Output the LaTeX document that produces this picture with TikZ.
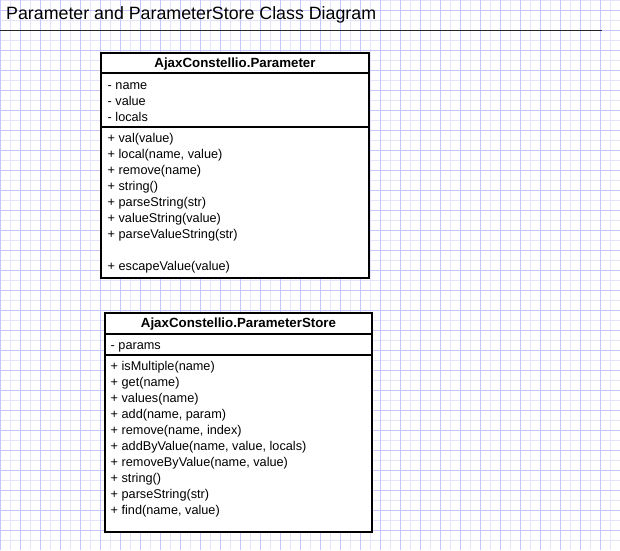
\documentclass[tikz,border=0pt]{standalone}
\usepackage{fontspec}
\setmainfont{Liberation Sans}
\usepackage{tikz}
\usetikzlibrary{positioning,calc}
\usepackage{xcolor}
\definecolor{gridmajor}{RGB}{198,198,255}
\definecolor{gridminor}{RGB}{228,228,250}
\tikzstyle{minorline}=[draw=gridminor, line width=1pt]
\tikzstyle{majorline}=[draw=gridmajor, line width=1pt]
\tikzstyle{compartment}=[draw, line width=2pt, fill=white, rectangle, anchor=north west, inner sep=0pt, outer sep=0pt]
\tikzstyle{classname}=[font=\fontsize{13.3}{16}\selectfont\bfseries, anchor=base, inner sep=0pt]
\tikzstyle{member}=[font=\fontsize{12.7}{16}\selectfont, anchor=base west, inner sep=0pt]

\begin{document}
\begin{tikzpicture}[x=1pt,y=-1pt]

\useasboundingbox (0,0) rectangle (620,550);
\fill[white] (0,0) rectangle (620,550);

% grid
\foreach \x in {10,30,...,610} \draw[minorline] (\x+0.5,0) -- (\x+0.5,550);
\foreach \y in {0,20,...,540} \draw[minorline] (0,\y+0.5) -- (620,\y+0.5);
\foreach \x in {0,20,...,600} \draw[majorline] (\x+0.5,0) -- (\x+0.5,550);
\foreach \y in {10,30,...,530} \draw[majorline] (0,\y+0.5) -- (620,\y+0.5);

% title
\node[font=\fontsize{17.8}{20}\selectfont, anchor=base west, inner sep=0pt] (title) at (6,19.5) {Parameter and ParameterStore Class Diagram};
\draw[black!85] (0,30.5) -- (602,30.5);

% Parameter
\node[compartment, minimum width=268pt, minimum height=20pt] (param-head) at (101,53) {};
\node[compartment, minimum width=268pt, minimum height=54pt] (param-attrs) at (param-head.south west) {};
\node[compartment, minimum width=268pt, minimum height=151pt] (param-ops) at (param-attrs.south west) {};
\node[classname] (param-name) at ($(param-head.north)+(0,14.7)$) {AjaxConstellio.Parameter};
\foreach \m [count=\i from 0] in {- name, - value, - locals}
  \node[member] (param-attr-\i) at ($(param-attrs.north west)+(6.5,{16+16*\i})$) {\m};
\foreach \m [count=\i from 0] in {+ val(value), {+ local(name, value)}, + remove(name), + string(), + parseString(str), + valueString(value), + parseValueString(str)}
  \node[member] (param-op-\i) at ($(param-ops.north west)+(6.5,{15+16*\i})$) {\m};
\node[member] (param-op-escape) at ($(param-ops.north west)+(6.5,143)$) {+ escapeValue(value)};

% ParameterStore
\node[compartment, minimum width=267pt, minimum height=21pt] (store-head) at (105,313) {};
\node[compartment, minimum width=267pt, minimum height=21pt] (store-attrs) at (store-head.south west) {};
\node[compartment, minimum width=267pt, minimum height=177pt] (store-ops) at (store-attrs.south west) {};
\node[classname] (store-name) at ($(store-head.north)+(0,14.5)$) {AjaxConstellio.ParameterStore};
\node[member] (store-attr-0) at ($(store-attrs.north west)+(5.5,15)$) {- params};
\foreach \m [count=\i from 0] in {+ isMultiple(name), + get(name), + values(name), {+ add(name, param)}, {+ remove(name, index)}, {+ addByValue(name, value, locals)}, {+ removeByValue(name, value)}, + string(), + parseString(str), {+ find(name, value)}}
  \node[member] (store-op-\i) at ($(store-ops.north west)+(5.5,{15+16*\i})$) {\m};

\end{tikzpicture}
\end{document}
